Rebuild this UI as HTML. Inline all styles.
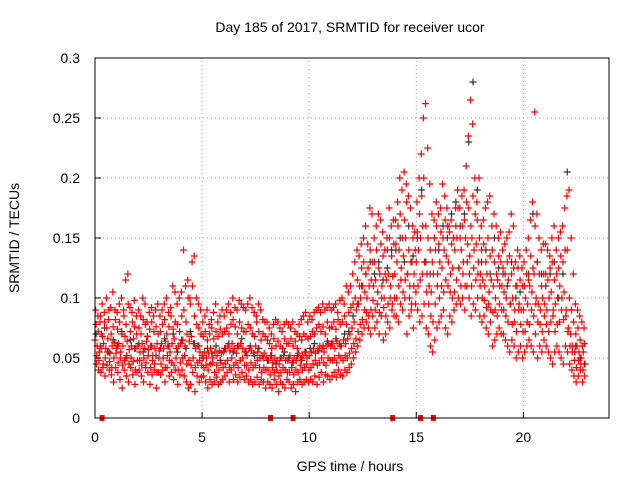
<!DOCTYPE html>
<html><head><meta charset="utf-8"><style>
body{margin:0;background:#fff}
svg{display:block;font-family:"Liberation Sans",sans-serif}
</style></head><body>
<svg id="chart" width="640" height="480" xmlns="http://www.w3.org/2000/svg">
<text x="350" y="32" text-anchor="middle" font-size="14">Day 185 of 2017, SRMTID for receiver ucor</text>
<text x="350" y="471" text-anchor="middle" font-size="14">GPS time / hours</text>
<text transform="translate(19,238) rotate(-90)" text-anchor="middle" font-size="14">SRMTID / TECUs</text>
<g id="grid"></g><g id="marks"></g><g id="axes"></g>
</svg>
<script>
const xTicks=[0,5,10,15,20];
const yTicks=[0,0.05,0.1,0.15,0.2,0.25,0.3];
const yTickLabels=["0","0.05","0.1","0.15","0.2","0.25","0.3"];
const seriesA=[65,60,55,70,62,58,66,54,60,63, 58,62,55,60,68,64,57,60,66,58, 60,55,62,58,64,57,60,52,58,62, 56,62,58,64,60,55,62,66,58,60, 62,65,60,70,64,68,62,58,60,55, 52,55,50,54,58,50,55,52,56,54, 55,58,60,56,62,58,54,60,62,58, 55,52,58,56,54,60,55,50,52,54, 50,48,52,46,50,48,45,50,52,48, 48,52,46,50,48,54,50,52,55,50, 52,55,58,54,56,60,58,55,60,62, 60,62,58,64,62,60,65,62,66,70, 75,80,90,95,100,110,105,100,110,115, 110,115,105,120,110,100,115,120,110,118, 120,130,140,125,135,150,120,110,130,120, 130,140,150,160,130,120,110,105,120,140, 120,130,125,140,135,130,120,125,140,150, 125,140,130,150,145,135,150,140,145,130, 120,115,110,120,105,115,110,100,115,110, 110,105,100,115,95,100,90,110,95,90, 90,100,95,110,105,120,100,95,90,100, 95,90,100,105,90,95,100,110,100,105, 90,75,70,60,55,60,55,50,55];
const seriesB=[90,85,80,95,88,100,82,92,105,90, 88,95,100,90,115,120,92,88,98,85, 90,85,100,95,80,88,92,85,90,95, 85,90,95,100,88,92,110,105,95,100, 105,140,110,115,100,130,135,100,95,90, 80,85,90,78,82,88,95,80,85,90, 85,90,95,88,100,92,90,98,95,92, 90,95,100,92,88,85,95,90,82,80, 80,75,70,78,82,80,75,72,78,80, 78,75,80,72,70,78,82,85,88,80, 85,82,88,90,92,88,95,90,92,95, 90,92,95,88,98,100,95,110,105,110, 120,130,140,135,145,150,160,145,175,170, 150,160,170,165,155,140,150,175,160,165, 165,180,200,190,205,195,185,175,160,155, 180,200,220,250,262,225,195,170,165,180, 170,175,195,185,175,160,165,150,175,190, 175,185,190,210,235,265,245,200,180,200, 160,165,175,180,185,160,170,160,150,155, 140,145,150,155,170,160,130,140,135,125, 130,140,150,165,180,255,170,150,140,145, 145,140,135,150,160,140,150,155,160,175, 185,190,150,120,95,90,85,80,75];
const seriesC=[45,40,38,42,35,44,40,36,30,42, 38,32,25,40,35,30,42,36,28,38, 40,35,30,42,38,28,36,40,25,38, 36,40,30,42,35,38,32,40,28,36, 40,35,30,25,28,38,22,35,30,34, 35,30,25,32,28,30,34,28,30,32, 35,38,30,40,32,36,30,34,38,32, 35,30,32,28,30,34,28,32,30,25, 30,28,25,32,28,22,30,28,25,32, 30,25,28,22,30,32,28,30,32,30, 32,30,35,28,34,38,30,36,35,32, 35,38,34,40,36,35,40,38,42,45, 50,55,60,65,70,75,80,75,70,85, 75,80,70,85,65,70,80,75,90,85, 85,80,95,90,100,70,85,90,75,95, 90,80,85,95,75,70,60,55,65,75, 80,85,90,75,70,85,80,90,95,100, 95,100,90,110,100,85,95,90,100,85, 80,85,75,70,80,60,65,70,75,70, 70,65,60,55,65,60,50,55,60,50, 55,60,65,60,55,70,50,60,55,65, 60,55,50,45,55,60,55,50,45,60, 55,45,40,35,30,35,40,30,35];
const seriesD=[78,72,85,68,80,75,90,70,76,82, 74,80,70,85,78,95,72,80,76,70, 75,70,82,78,68,74,80,72,76,70, 72,78,82,70,76,85,74,80,78,72, 85,90,80,100,95,110,85,78,75,70, 68,72,65,70,75,66,72,68,74,70, 72,75,70,78,82,76,70,80,75,72, 72,78,75,70,68,80,72,65,70,68, 65,62,58,66,60,64,60,58,66,62, 62,66,60,64,58,68,65,70,68,66, 68,72,70,75,78,72,76,70,80,75, 76,80,74,82,78,80,85,78,88,92, 95,100,115,110,125,130,120,125,140,130, 130,140,125,145,135,120,140,150,135,145, 145,160,170,150,165,180,140,130,150,140, 155,170,185,200,160,150,140,130,150,160, 145,155,150,165,160,155,145,150,160,175, 150,160,165,180,175,160,185,170,165,150, 140,145,130,150,135,140,130,120,135,130, 125,120,130,135,120,125,110,125,115,110, 110,120,115,135,125,160,130,120,110,120, 120,115,125,130,115,120,125,135,130,140, 140,100,90,80,70,75,65,60,62];
const seriesE=[52,48,58,45,50,55,47,42,50,54, 46,50,44,48,52,45,50,47,40,48, 48,44,50,46,52,42,48,45,38,50, 45,50,42,52,48,46,44,50,40,46, 50,52,45,48,44,50,42,46,48,44, 42,44,40,45,46,38,44,40,46,42, 45,48,42,50,44,46,42,48,50,44, 44,40,46,42,44,48,42,38,42,40, 40,36,42,38,40,35,38,42,40,38, 38,42,36,40,38,44,40,42,45,40, 42,45,48,44,46,50,46,44,50,48, 48,50,46,52,50,48,52,50,54,58, 62,66,72,78,82,90,88,85,90,98, 90,95,88,100,92,85,95,100,95,100, 100,110,115,105,115,120,100,95,110,105, 110,115,120,130,105,95,85,80,95,110, 100,110,105,115,110,105,100,105,115,125, 110,120,110,130,120,110,125,115,120,110, 100,98,92,95,90,88,90,85,95,90, 90,85,80,95,78,80,72,90,78,72, 72,80,78,90,85,95,80,78,72,85, 78,72,80,85,72,78,80,90,82,85, 72,60,55,48,42,48,45,40,45];
const seriesBlack=[70,60,75,55,65, 60,72,50,65,58, 62,55,68,60,52, 58,66,60,70,55, 65,58,72,62,60, 50,58,54,60,48, 58,62,55,60,66, 55,60,52,58,50, 48,52,45,50,55, 50,46,52,48,55, 58,62,56,60,64, 62,66,60,70,72, 85,95,110,120,130, 120,130,115,125,140, 140,150,130,160,135, 150,190,130,120,150, 140,160,150,170,180, 160,170,230,280,190, 130,140,120,150,125, 120,110,130,100,105, 110,120,170,130,120, 110,120,130,100,120, 205,90,60,50,45];
const flagHours=[0.33,8.2,9.25,13.9,15.2,15.8];
const NS="http://www.w3.org/2000/svg";
const X0=95,X1=609,Y0=418,Y1=58;
const xs=h=>X0+(h-0)/(24-0)*(X1-X0);
const ys=v=>Y0-(v-0)/(0.3-0)*(Y0-Y1);
function mk(tag,attrs,parent){const e=document.createElementNS(NS,tag);for(const k in attrs)e.setAttribute(k,attrs[k]);parent.appendChild(e);return e;}
const grid=document.getElementById('grid'),marks=document.getElementById('marks'),axes=document.getElementById('axes');
xTicks.forEach(t=>{
  if(t>0){const g=mk('line',{x1:xs(t),x2:xs(t),y1:Y0,y2:Y1,stroke:'#a0a0a0','stroke-dasharray':'1,3'},grid);
  
  }
  const tl=mk('line',{x1:xs(t),x2:xs(t),y1:Y0,y2:Y0-6,stroke:'#000'},axes);
  
  
  const lb=mk('text',{x:xs(t),y:Y0+24,'text-anchor':'middle','font-size':'14'},axes);
  lb.textContent=String(t);
  
  
});
yTicks.forEach((t,i)=>{
  if(t>0){const g=mk('line',{x1:X0,x2:X1,y1:ys(t),y2:ys(t),stroke:'#a0a0a0','stroke-dasharray':'1,3'},grid);
  
  }
  const tl=mk('line',{x1:X0,x2:X0+6,y1:ys(t),y2:ys(t),stroke:'#000'},axes);
  
  
  const lb=mk('text',{x:X0-15,y:ys(t)+5,'text-anchor':'end','font-size':'14'},axes);
  lb.textContent=yTickLabels[i];
  
  
});
const border=mk('rect',{x:X0,y:Y1,width:X1-X0,height:Y0-Y1,fill:'none',stroke:'#000'},axes);


function plus(h,v,color,name){
  const x=xs(h),y=ys(v);
  const p=mk('path',{d:`M${x-3.5},${y}H${x+3.5}M${x},${y-3.5}V${y+3.5}`,stroke:color,'stroke-width':'1.2',fill:'none'},marks);
  
  
}
seriesBlack.forEach((v,i)=>plus(i*0.2+0.05,v/1000,'#333','black-point'));
seriesA.forEach((v,i)=>plus(i*0.1,v/1000,'#ff0000','red-point'));
seriesB.forEach((v,i)=>plus(i*0.1+0.033,v/1000,'#ff0000','red-point'));
seriesC.forEach((v,i)=>plus(i*0.1+0.066,v/1000,'#ff0000','red-point'));
seriesD.forEach((v,i)=>plus(i*0.1+0.05,v/1000,'#ff0000','red-point'));
seriesE.forEach((v,i)=>plus(i*0.1+0.083,v/1000,'#ff0000','red-point'));
flagHours.forEach(h=>{
  const r=mk('rect',{x:xs(h)-2.5,y:Y0-3,width:5,height:6,fill:'#ff0000'},marks);
  
  
});
</script>
</body></html>
